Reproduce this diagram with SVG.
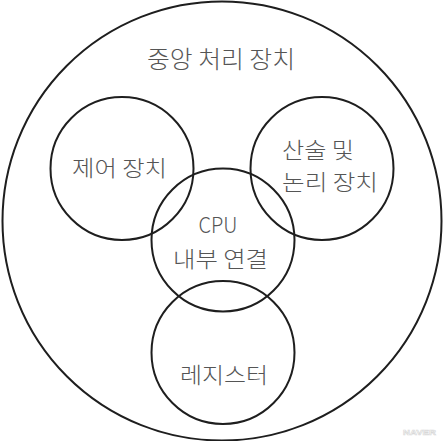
<svg xmlns="http://www.w3.org/2000/svg" width="444" height="441" viewBox="0 0 444 441">
<style>
  .c { fill: none; stroke: #1e1e1e; stroke-width: 2; }
  .t { font-family: "Noto Sans CJK KR", "Noto Sans", sans-serif; font-weight: 300; fill: #555555; font-size: 22px; }
  .m { text-anchor: middle; }
  .wm { font-family: "Liberation Sans", sans-serif; font-weight: bold; font-size: 8px; fill: #ffffff; stroke: #d8d8d8; stroke-width: 0.6; }
</style>
<rect width="444" height="441" fill="#ffffff"/>
<g id="cpu">
  <circle class="c" cx="222" cy="221" r="219.5"/>
  <text class="t m" x="221" y="68" style="font-size:24px" textLength="148" lengthAdjust="spacingAndGlyphs">중앙 처리 장치</text>
</g>
<g id="control-unit">
  <circle class="c" cx="122" cy="168.5" r="71.5"/>
  <text class="t m" x="119.5" y="176" textLength="95" lengthAdjust="spacingAndGlyphs">제어 장치</text>
</g>
<g id="alu">
  <circle class="c" cx="322" cy="168.5" r="71.5"/>
  <text class="t" x="282" y="158" textLength="72" lengthAdjust="spacingAndGlyphs">산술 및</text>
  <text class="t" x="282" y="190" textLength="96" lengthAdjust="spacingAndGlyphs">논리 장치</text>
</g>
<g id="interconnect">
  <circle class="c" cx="223" cy="240" r="71.5"/>
  <text class="t m" x="218" y="233" textLength="39" lengthAdjust="spacingAndGlyphs">CPU</text>
  <text class="t m" x="220.5" y="267" textLength="95" lengthAdjust="spacingAndGlyphs">내부 연결</text>
</g>
<g id="registers">
  <circle class="c" cx="223" cy="352.5" r="71.5"/>
  <text class="t m" x="224" y="383" textLength="88" lengthAdjust="spacingAndGlyphs">레지스터</text>
</g>
<g id="connectors"></g>
<text class="wm" x="403" y="435" textLength="33" lengthAdjust="spacingAndGlyphs">NAVER</text>
</svg>
